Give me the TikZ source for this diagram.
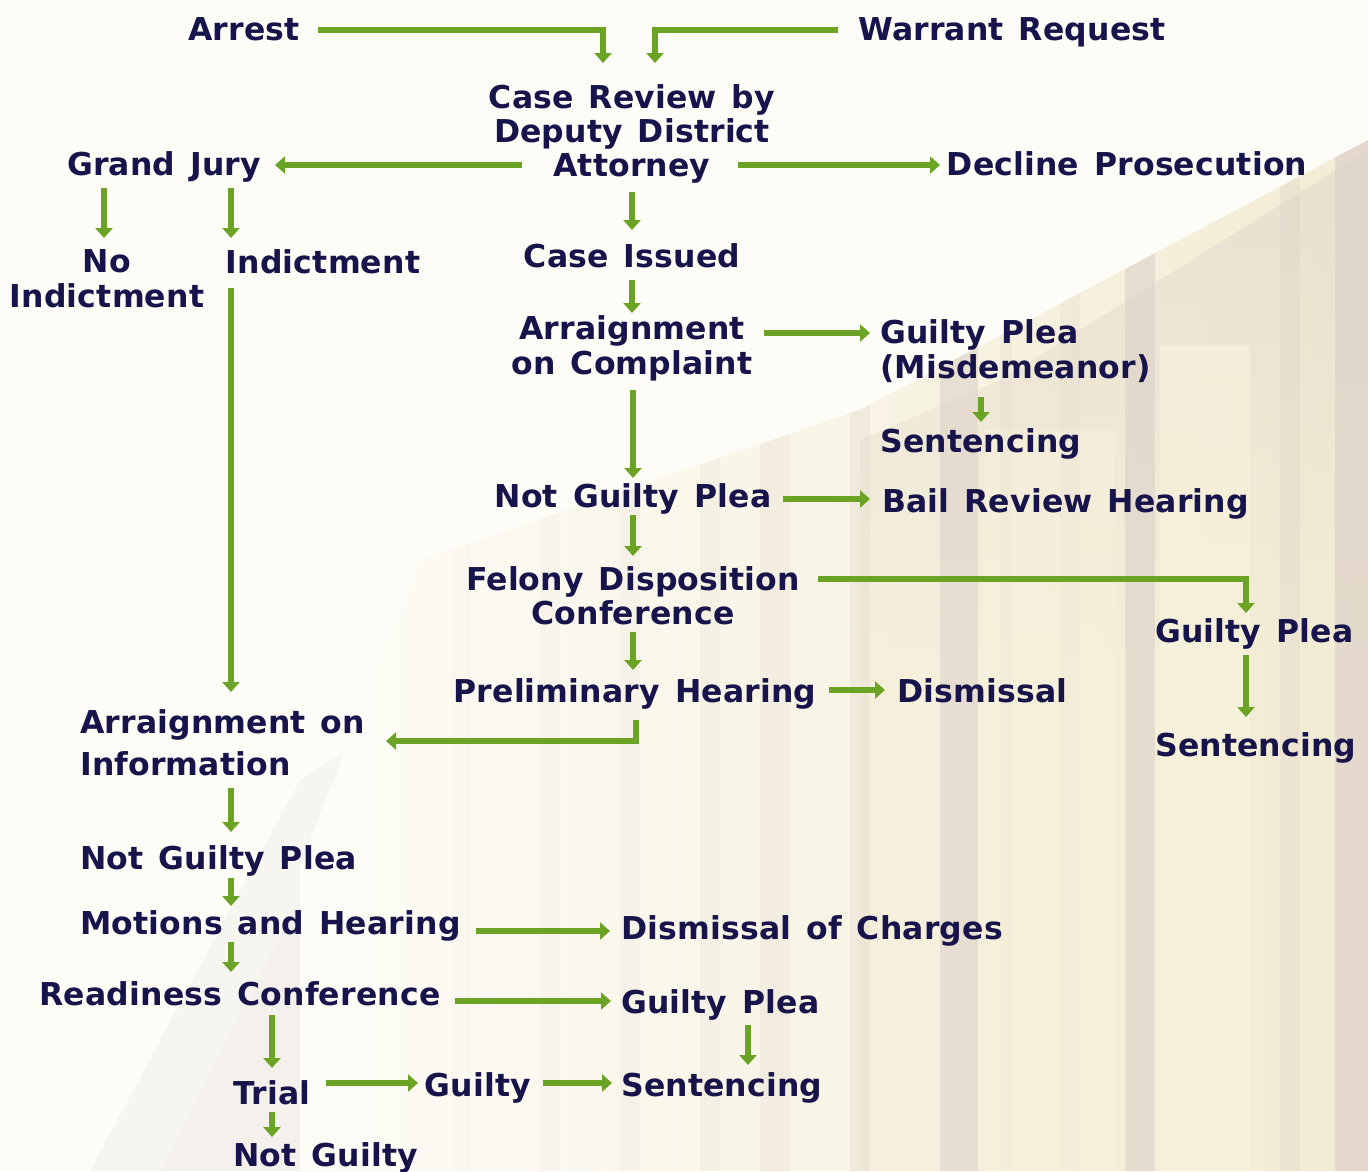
\documentclass[tikz,border=0pt]{standalone}
\usepackage{fontspec}
\setmainfont{DejaVu Sans}[LetterSpace=0.5, WordSpace=1.35]
\usetikzlibrary{arrows.meta,calc}
\definecolor{ink}{HTML}{16144A}
\definecolor{grn}{HTML}{6BA424}
\definecolor{bgw}{HTML}{FDFCF7}
\definecolor{crm}{HTML}{FAF5DF}
\definecolor{crm2}{HTML}{F3ECD4}
\definecolor{shd}{HTML}{DCD0C8}
\definecolor{gry}{HTML}{ECE7E3}
\tikzset{
  lbl/.style={inner sep=0pt, text=ink, font=\fontsize{31.5}{34}\selectfont\bfseries},
  arr/.style={draw=grn, line width=6.5pt, -{Triangle[length=10pt,width=17pt]}},
}
\begin{document}
\begin{tikzpicture}[x=1pt,y=-1pt]
\useasboundingbox (0,0) rectangle (1368,1171);
% ---------- background ----------
\fill[bgw] (0,0) rectangle (1368,1171);
\fill[gry, opacity=0.3] (90,1171) -- (300,780) -- (520,640) -- (700,1171) -- cycle;
\fill[gry, opacity=0.25] (160,1171) -- (330,840) -- (480,760) -- (620,1171) -- cycle;
\begin{scope}
  \clip (1368,140) -- (860,410) -- (420,560) -- (180,1171) -- (1368,1171) -- cycle;
  \shade[left color=bgw, right color=crm2] (300,140) rectangle (1368,1171);
  \shade[top color=shd, bottom color=crm2, middle color=crm2, opacity=0.45] (1368,150) -- (1000,380) -- (860,440) -- (860,1171) -- (1368,1171) -- cycle;
  \foreach \a/\b/\o in {450/470/0.06, 540/560/0.08, 620/640/0.12, 700/720/0.15, 760/790/0.2, 850/870/0.25,
                        940/978/0.55, 1000/1012/0.2, 1060/1080/0.2, 1125/1155/0.6, 1280/1300/0.3, 1335/1368/0.65}
    \fill[shd, opacity=\o] (\a,0) rectangle (\b,1171);
  \fill[crm, opacity=0.55] (1160,345) rectangle (1250,1171);
  \fill[crm, opacity=0.35] (985,430) rectangle (1115,1171);
\end{scope}
% ---------- nodes ----------
\node[lbl, anchor=base] (arrest) at (244,40) {Arrest};
\node[lbl, anchor=base] (warrant) at (1012,40) {Warrant Request};
\node[lbl, anchor=north, align=center] (review) at (632,84) {Case Review by\\Deputy District\\Attorney};
\node[lbl, anchor=base] (gj) at (164,175) {Grand Jury};
\node[lbl, anchor=base] (decline) at (1127,175) {Decline Prosecution};
\node[lbl, anchor=north, align=center] (noind) at (107,249) {No\\[1pt]Indictment};
\node[lbl, anchor=base] (ind) at (323,273) {Indictment};
\node[lbl, anchor=base] (issued) at (632,267) {Case Issued};
\node[lbl, anchor=north, align=center] (arrc) at (632,315) {Arraignment\\[1pt]on Complaint};
\node[lbl, anchor=north west, align=left] (gpm) at (880,319) {Guilty Plea\\[1pt](Misdemeanor)};
\node[lbl, anchor=base west] (sentm) at (880,452) {Sentencing};
\node[lbl, anchor=base] (ngp) at (633,507) {Not Guilty Plea};
\node[lbl, anchor=base west] (bail) at (882,512) {Bail Review Hearing};
\node[lbl, anchor=north, align=center] (felony) at (633,566) {Felony Disposition\\Conference};
\node[lbl, anchor=base west] (gpf) at (1155,642) {Guilty Plea};
\node[lbl, anchor=base] (prelim) at (635,702) {Preliminary Hearing};
\node[lbl, anchor=base west] (dismissal) at (897,702) {Dismissal};
\node[lbl, anchor=base west] (sentf) at (1155,756) {Sentencing};
\node[lbl, anchor=north west, align=left] (arri) at (80,709) {Arraignment on\\[8pt]Information};
\node[lbl, anchor=base west] (ngp2) at (80,869) {Not Guilty Plea};
\node[lbl, anchor=base west] (motions) at (80,934) {Motions and Hearing};
\node[lbl, anchor=base west] (doc) at (621,939) {Dismissal of Charges};
\node[lbl, anchor=base] (ready) at (240,1005) {Readiness Conference};
\node[lbl, anchor=base west] (gp2) at (621,1013) {Guilty Plea};
\node[lbl, anchor=base west] (trial) at (233,1104) {Trial};
\node[lbl, anchor=base] (guilty) at (478,1096) {Guilty};
\node[lbl, anchor=base west] (sent2) at (621,1096) {Sentencing};
\node[lbl, anchor=base west] (notg) at (233,1166) {Not Guilty};
% ---------- connectors ----------
\draw[arr] ($(arrest.base)+(74,-10)$) -| ($(review.north)+(-29,-21)$);
\draw[arr] ($(warrant.base)+(-174,-10)$) -| ($(review.north)+(23,-21)$);
\draw[arr] ($(review.north)+(-110,81)$) -- ($(gj.base)+(111,-10)$);
\draw[arr] ($(review.north)+(106,81)$) -- ($(decline.base)+(-187,-10)$);
\draw[arr] ($(review.north)+(0,108)$) -- ($(issued.base)+(0,-37)$);
\draw[arr] ($(gj.base)+(-60,13)$) -- ($(noind.north)+(-3,-11)$);
\draw[arr] ($(gj.base)+(67,13)$) -- ($(ind.base)+(-92,-35)$);
\draw[arr] ($(ind.base)+(-92,15)$) -- ($(arri.north west)+(151,-17)$);
\draw[arr] ($(issued.base)+(0,13)$) -- ($(arrc.north)+(0,-2)$);
\draw[arr] ($(arrc.north)+(132,18)$) -- ($(gpm.north west)+(-10,14)$);
\draw[arr] ($(gpm.north west)+(101,78)$) -- ($(sentm.base west)+(101,-30)$);
\draw[arr] ($(arrc.north)+(1,75)$) -- ($(ngp.base)+(0,-29)$);
\draw[arr] ($(ngp.base)+(150,-8)$) -- ($(bail.base west)+(-12,-13)$);
\draw[arr] ($(ngp.base)+(0,8)$) -- ($(felony.north)+(0,-10)$);
\draw[arr] ($(felony.north)+(185,13)$) -| ($(gpf.base west)+(91,-29)$);
\draw[arr] ($(gpf.base west)+(91,13)$) -- ($(sentf.base west)+(91,-39)$);
\draw[arr] ($(felony.north)+(0,66)$) -- ($(prelim.base)+(-2,-32)$);
\draw[arr] ($(prelim.base)+(194,-12)$) -- ($(dismissal.base west)+(-12,-12)$);
\draw[arr] ($(prelim.base)+(1,18)$) |- ($(arri.north west)+(306,32)$);
\draw[arr] ($(arri.north west)+(151,79)$) -- ($(ngp2.base west)+(151,-37)$);
\draw[arr] ($(ngp2.base west)+(151,9)$) -- ($(motions.base west)+(151,-28)$);
\draw[arr] ($(motions.base west)+(396,-3)$) -- ($(doc.base west)+(-11,-8)$);
\draw[arr] ($(motions.base west)+(151,8)$) -- ($(ready.base)+(-9,-33)$);
\draw[arr] ($(ready.base)+(215,-4)$) -- ($(gp2.base west)+(-10,-12)$);
\draw[arr] ($(ready.base)+(32,10)$) -- ($(trial.base west)+(39,-36)$);
\draw[arr] ($(gp2.base west)+(127,12)$) -- ($(sent2.base west)+(127,-31)$);
\draw[arr] ($(trial.base west)+(93,-21)$) -- ($(guilty.base)+(-60,-13)$);
\draw[arr] ($(guilty.base)+(65,-13)$) -- ($(sent2.base west)+(-9,-13)$);
\draw[arr] ($(trial.base west)+(39,8)$) -- ($(notg.base west)+(39,-29)$);
\end{tikzpicture}
\end{document}
